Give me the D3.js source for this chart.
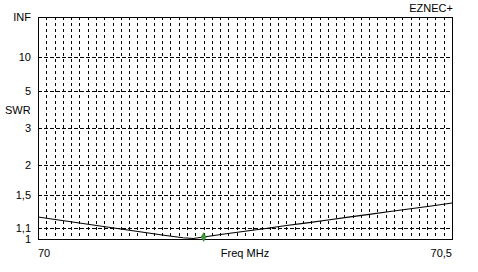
<!DOCTYPE html>
<html>
<head>
<meta charset="utf-8">
<script src="https://cdn.jsdelivr.net/npm/d3@7"></script>
<style>
  body { margin: 0; background: #fff; }
  text { font-family: "Liberation Sans", Arial, sans-serif; font-size: 11px; fill: #000; }
</style>
</head>
<body>
<div id="chart"></div>
<script>
// sweep data
const freqs = [70.000, 70.025, 70.050, 70.075, 70.100, 70.125, 70.150, 70.175, 70.1875,
  70.200, 70.225, 70.250, 70.275, 70.300, 70.325, 70.350, 70.375, 70.400, 70.425,
  70.450, 70.475, 70.500];
const swr = [1.220, 1.187, 1.155, 1.124, 1.094, 1.065, 1.037, 1.011, 1.004,
  1.018, 1.046, 1.073, 1.100, 1.129, 1.157, 1.188, 1.219, 1.250, 1.282,
  1.316, 1.350, 1.387];
const markerFreq = [70.2];
const markerSwr = [1.018];
const swrTicks = [1, 1.1, 1.5, 2, 3, 5, 10, Infinity];
const swrTickLabels = ["1", "1,1", "1,5", "2", "3", "5", "10", "INF"];
const swrGrid = [1.1, 1.5, 2, 3, 5, 10];
const freqDomain = [70, 70.5];
const freqLabels = ["70", "70,5"];

const width = 478;
const height = 272;
const margin = { left: 38, right: 26, top: 17, bottom: 33 };

// EZNEC draws SWR on a reflection-coefficient scale
const rho = (s) => (s === Infinity ? 1 : (s - 1) / (s + 1));

const svg = d3.select("#chart").append("svg")
  .attr("width", width)
  .attr("height", height);

const x = d3.scaleLinear()
  .domain(freqDomain)
  .range([margin.left, width - margin.right]);

const y = d3.scaleLinear()
  .domain([0, 1])
  .range([height - margin.bottom, margin.top]);

// vertical grid, 0.01 MHz
const vTicks = x.ticks(50).filter((d, i, a) => i > 0 && i < a.length - 1);
svg.append("g")
  .selectAll("line")
  .data(vTicks)
  .join("line")
  .attr("x1", (d) => Math.round(x(d)) + 0.5)
  .attr("x2", (d) => Math.round(x(d)) + 0.5)
  .attr("y1", y(1))
  .attr("y2", y(0))
  .attr("stroke", "#000")
  .attr("stroke-dasharray", "3,3");

// horizontal grid
svg.append("g")
  .selectAll("line")
  .data(swrGrid)
  .join("line")
  .attr("x1", x(freqDomain[0]))
  .attr("x2", x(freqDomain[1]))
  .attr("y1", (d) => Math.round(y(rho(d))) + 0.5)
  .attr("y2", (d) => Math.round(y(rho(d))) + 0.5)
  .attr("stroke", "#000")
  .attr("stroke-dasharray", "4,2");

// frame
svg.append("rect")
  .attr("x", Math.round(x(freqDomain[0])) + 0.5)
  .attr("y", Math.round(y(1)) + 0.5)
  .attr("width", Math.round(x(freqDomain[1]) - x(freqDomain[0])))
  .attr("height", Math.round(y(0) - y(1)))
  .attr("fill", "none")
  .attr("stroke", "#000");

// SWR curve
const line = d3.line()
  .x((d, i) => x(freqs[i]))
  .y((d) => y(rho(d)));

svg.append("path")
  .datum(swr)
  .attr("d", line)
  .attr("fill", "none")
  .attr("stroke", "#000")
  .attr("stroke-width", 1.1);

// marker
svg.append("path")
  .attr("d", d3.symbol(d3.symbolDiamond, 22)())
  .attr("transform", `translate(${x(markerFreq[0])},${y(rho(markerSwr[0]))})`)
  .attr("fill", "#3c9a3c")
  .attr("stroke", "#2a7a2a")
  .attr("stroke-width", 0.5);

// y axis labels
const yAxis = d3.axisLeft(y)
  .tickValues(swrTicks.map(rho))
  .tickFormat((d, i) => swrTickLabels[i])
  .tickSize(0)
  .tickPadding(7);

svg.append("g")
  .attr("transform", `translate(${margin.left},0)`)
  .call(yAxis)
  .call((g) => g.select(".domain").remove())
  .call((g) => g.selectAll("text")
    .attr("fill", "#000")
    .style("font-family", "'Liberation Sans', Arial, sans-serif")
    .style("font-size", "11px"));

svg.append("text")
  .attr("x", 5)
  .attr("y", 114)
  .text("SWR");

// x labels
svg.append("text")
  .attr("x", x(freqDomain[0]))
  .attr("y", 257)
  .text(freqLabels[0]);

svg.append("text")
  .attr("x", x(freqDomain[1]))
  .attr("y", 257)
  .attr("text-anchor", "end")
  .text(freqLabels[1]);

svg.append("text")
  .attr("x", (x(freqDomain[0]) + x(freqDomain[1])) / 2)
  .attr("y", 257)
  .attr("text-anchor", "middle")
  .text("Freq MHz");

svg.append("text")
  .attr("x", 453)
  .attr("y", 12)
  .attr("text-anchor", "end")
  .text("EZNEC+");
</script>
</body>
</html>
